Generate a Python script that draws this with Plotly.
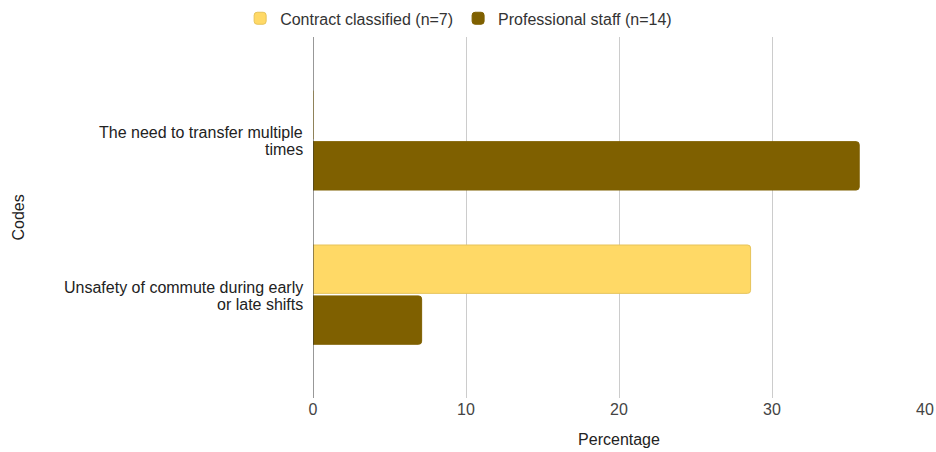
import plotly.graph_objects as go

categories = ["The need to transfer multiple times",
              "Unsafety of commute during early or late shifts"]
category_lines = [["The need to transfer multiple", "times"],
                  ["Unsafety of commute during early", "or late shifts"]]
series_names = ["Contract classified (n=7)", "Professional staff (n=14)"]
contract_values = [0, 28.6]
professional_values = [35.7, 7.1]
x_ticks = [0, 10, 20, 30, 40]

colors = ["#ffd966", "#7f6000"]
FONT = "Liberation Sans, Arial, sans-serif"

L, R, T, B = 313, 11, 37, 54
PLOT_W = 936 - L - R

fig = go.Figure()
fig.add_trace(go.Bar(y=categories, x=contract_values, orientation="h",
                     name=series_names[0],
                     marker=dict(color=colors[0], line=dict(color="#e6c35a", width=1), cornerradius=3)))
fig.add_trace(go.Bar(y=categories, x=professional_values, orientation="h",
                     name=series_names[1],
                     marker=dict(color=colors[1], line=dict(color="#7f6000", width=1), cornerradius=3)))

fig.update_layout(
    width=936, height=452,
    margin=dict(l=L, r=R, t=T, b=B, autoexpand=False),
    paper_bgcolor="white", plot_bgcolor="white",
    font=dict(family=FONT, size=16, color="#222222"),
    barmode="group", bargap=0.34, bargroupgap=0.05,
    legend=dict(orientation="h", xref="container", yref="container",
                x=0.49, xanchor="center", y=0.997, yanchor="top",
                font=dict(size=16, color="#333333"), traceorder="normal",
                itemwidth=30),
    xaxis=dict(range=[0, 40], tickvals=x_ticks, showgrid=True, gridcolor="#cccccc",
               gridwidth=1, zeroline=False, showline=False, automargin=False,
               tickfont=dict(size=16, color="#444444"),
               title=dict(text="Percentage", font=dict(size=16, color="#222222"), standoff=16)),
    yaxis=dict(categoryorder="array", categoryarray=categories,
               range=[1.67, -0.67], showgrid=False, zeroline=False, automargin=False,
               showline=False, ticks="", showticklabels=False),
)
fig.add_shape(type="line", xref="x", yref="paper", x0=0, x1=0, y0=0, y1=1,
              line=dict(color="#333333", width=1))

for cat, lines in zip(categories, category_lines):
    n = len(lines)
    for i, line in enumerate(lines):
        fig.add_annotation(x=0, xref="paper", xanchor="right", xshift=-8,
                           y=cat, yref="y", yanchor="middle",
                           yshift=(n - 1) * 8.5 - i * 17 - 1,
                           text=line, showarrow=False,
                           font=dict(family=FONT, size=16, color="#222222"))

fig.add_annotation(x=(18 - L) / PLOT_W, xref="paper", y=0.5, yref="paper", text="Codes",
                   textangle=-90, showarrow=False, xanchor="center", yanchor="middle",
                   font=dict(family=FONT, size=16, color="#222222"))

fig.write_html("out.html", config={"displayModeBar": False},
               post_script="document.body.style.margin='0px';document.body.style.overflow='hidden';")
